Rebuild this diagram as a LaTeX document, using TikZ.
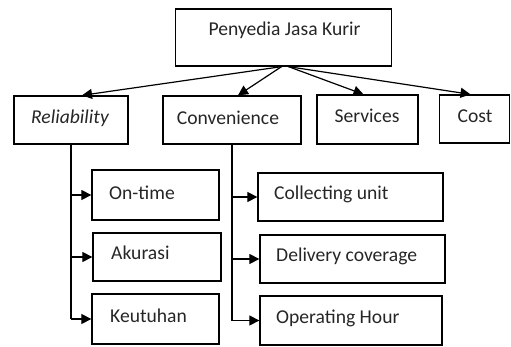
\documentclass[tikz,border=0pt]{standalone}
\usepackage{fontspec}
\setmainfont{Carlito}
\usetikzlibrary{arrows.meta,calc}
\begin{document}
\begin{tikzpicture}[x=1pt,y=-1pt,
  box/.style={draw,line width=1.3pt,inner sep=0pt,minimum width=#1},
  lbl/.style={inner sep=0pt,font=\fontsize{19.6}{22}\selectfont,text=black!85},
  conn/.style={line width=1.2pt,-{Triangle[length=10pt,width=10pt]}}]
\useasboundingbox (0,0) rectangle (511,347);
% boxes
\node[box=216pt,minimum height=57pt] (top) at (283.5,37.5) {};
\node[box=114pt,minimum height=48pt] (rel) at (71,120) {};
\node[box=138pt,minimum height=48pt] (con) at (232,120) {};
\node[box=101pt,minimum height=49pt] (ser) at (367.5,119.5) {};
\node[box=70pt,minimum height=48pt] (cos) at (474.5,119) {};
\node[box=127pt,minimum height=50pt] (ont) at (155.5,195) {};
\node[box=128pt,minimum height=48pt] (aku) at (157,257) {};
\node[box=127pt,minimum height=50pt] (keu) at (155.5,319) {};
\node[box=185pt,minimum height=48pt] (col) at (350.5,197) {};
\node[box=185pt,minimum height=48pt] (del) at (352.5,259) {};
\node[box=182pt,minimum height=49pt] (ope) at (351,320.5) {};
% labels
\node[lbl] (tTop) at (284.5,30) {Penyedia Jasa Kurir};
\node[lbl] (tRel) at (70,118) {\itshape Reliability};
\node[lbl] (tCon) at (228,118) {Convenience};
\node[lbl] (tSer) at (367,116) {Services};
\node[lbl] (tCos) at (475,116) {Cost};
\node[lbl,anchor=west] (tOnt) at (109,193) {On-time};
\node[lbl,anchor=west] (tAku) at (111,253) {Akurasi};
\node[lbl,anchor=west] (tKeu) at (110,316) {Keutuhan};
\node[lbl,anchor=west] (tCol) at (274,194) {Collecting unit};
\node[lbl,anchor=west] (tDel) at (276,256) {Delivery coverage};
\node[lbl,anchor=west] (tOpe) at (276,318) {Operating Hour};
% connectors from top
\draw[conn] ($(top.south)+(-2,0)$) -- ($(rel.north)+(11,0)$);
\draw[conn] ($(top.south)+(-2,0)$) -- ($(con.north)+(6,0)$);
\draw[conn] ($(top.south)+(5,0)$) -- ($(ser.north)+(-4,0)$);
\draw[conn] ($(top.south)+(5,0)$) -- ($(cos.north)+(-4,0)$);
% tree branches
\draw[line width=1.2pt] (rel.south) -- (rel.south |- keu.west);
\draw[conn] (rel.south |- ont.west) -- (ont.west);
\draw[conn] (rel.south |- aku.west) -- (aku.west);
\draw[conn] (rel.south |- keu.west) -- (keu.west);
\draw[line width=1.2pt] (con.south) -- (con.south |- ope.west);
\draw[conn] (con.south |- col.west) -- (col.west);
\draw[conn] (con.south |- del.west) -- (del.west);
\draw[conn] (con.south |- ope.west) -- (ope.west);
\end{tikzpicture}
\end{document}
